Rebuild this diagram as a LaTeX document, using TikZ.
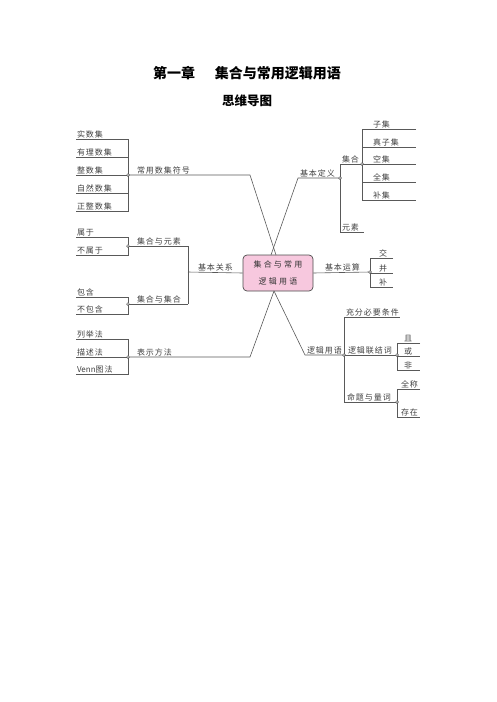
\documentclass[tikz,border=0pt]{standalone}
\usepackage{fontspec}
\newfontfamily\cjk[LetterSpace=12]{Noto Sans CJK SC}
\newfontfamily\cjkw[LetterSpace=28]{Noto Sans CJK SC}
\newfontfamily\cjkt{Noto Sans CJK SC}
\definecolor{nodepink}{RGB}{247,200,222}
\tikzset{
  ln/.style={draw=black!65, line width=0.6pt},
  lbl/.style={font=\cjk\fontsize{8}{9}\selectfont, text=black!75, inner sep=0.8pt, anchor=south west},
  jdot/.style={circle, draw=black!70, fill=white, inner sep=0pt, minimum size=2.8pt, line width=0.5pt},
  hub/.style={draw=black!70, line width=0.7pt, fill=nodepink, rounded corners=4pt, minimum width=70pt, minimum height=36pt, align=center, font=\cjkw\fontsize{8}{17}\selectfont, text=black!80},
  ttl/.style={font=\cjkt\bfseries\fontsize{14}{16}\selectfont},
  sttl/.style={font=\cjkt\bfseries\fontsize{12.5}{14}\selectfont}
}
\begin{document}
\begin{tikzpicture}[x=1pt,y=-1pt]
\useasboundingbox (0,0) rectangle (496,702);
\node[ttl] (title) at (247,73) {第一章\hspace{1.4em}集合与常用逻辑用语};
\node[sttl] (subtitle) at (247,101) {思维导图};

\node[hub] (c) at (278,273) {集合与常用\\逻辑用语};

% ---------- 常用数集符号 ----------
\node[lbl] (a1) at (76,139) {实数集};
\node[lbl] (a2) at (76,157) {有理数集};
\node[lbl] (a3) at (76,175) {整数集};
\node[lbl] (a4) at (76,193) {自然数集};
\node[lbl] (a5) at (76,211) {正整数集};
\draw[ln] (a1.south west) -- (128,139) -- (128,211) -- (a5.south west);
\foreach \y/\n in {157/a2,175/a3,193/a4} \draw[ln] (\n.south west) -- (128,\y);
\node[lbl] (A) at (136,175) {常用数集符号};
\coordinate (Aj) at (128,175);
\coordinate (Ak) at (250,175);
\coordinate (Ac) at (276,255);
\draw[ln] (Aj) -- (Ak) -- (Ac);
\node[jdot] at (Aj) {};

% ---------- 基本关系 ----------
\node[lbl] (B) at (197,272) {基本关系};
\coordinate (Bj) at (188,272);
\draw[ln] (c.west) -- (Bj);
\draw[ln] (188,246) -- (188,304);
\node[lbl] (B1) at (136,246) {集合与元素};
\draw[ln] (128,246) -- (188,246);
\node[lbl] (b11) at (76,237) {属于};
\node[lbl] (b12) at (76,255) {不属于};
\draw[ln] (b11.south west) -- (128,237) -- (128,255) -- (b12.south west);
\node[jdot] at (128,246) {};
\node[lbl] (B2) at (136,304) {集合与集合};
\draw[ln] (128,304) -- (188,304);
\node[lbl] (b21) at (76,297) {包含};
\node[lbl] (b22) at (76,314) {不包含};
\draw[ln] (b21.south west) -- (128,297) -- (128,314) -- (b22.south west);
\node[jdot] at (128,304) {};

% ---------- 表示方法 ----------
\node[lbl] (d1) at (76,339) {列举法};
\node[lbl] (d2) at (76,357) {描述法};
\node[lbl] (d3) at (76,374) {{\cjkt Venn}图法};
\draw[ln] (d1.south west) -- (128,339) -- (128,374) -- (d3.south west);
\draw[ln] (d2.south west) -- (128,357);
\node[lbl] (D) at (136,357) {表示方法};
\coordinate (Dj) at (128,357);
\coordinate (Dk) at (250,357);
\coordinate (Dc) at (274,291);
\draw[ln] (Dj) -- (Dk) -- (Dc);
\node[jdot] at (Dj) {};

% ---------- 基本定义 ----------
\coordinate (Ec) at (271,255);
\coordinate (Ek) at (298,178);
\coordinate (Ej) at (340,178);
\node[lbl] (E) at (299,178) {基本定义};
\draw[ln] (Ec) -- (Ek) -- (Ej);
\draw[ln] (340,164) -- (340,232);
\node[lbl] (E1) at (341,164) {集合};
\draw[ln] (340,164) -- (362,164);
\node[lbl] (E2) at (341,232) {元素};
\draw[ln] (340,232) -- (364,232);
\node[lbl] (e1) at (372,129) {子集};
\node[lbl] (e2) at (372,147) {真子集};
\node[lbl] (e3) at (372,164) {空集};
\node[lbl] (e4) at (372,182) {全集};
\node[lbl] (e5) at (372,200) {补集};
\draw[ln] (416,129) -- (362,129) -- (362,200) -- (416,200);
\foreach \y in {147,164,182} \draw[ln] (362,\y) -- (416,\y);
\node[jdot] at (Ej) {};
\node[jdot] at (362,164) {};

% ---------- 基本运算 ----------
\node[lbl] (F) at (324,272) {基本运算};
\coordinate (Fj) at (370,272);
\draw[ln] (c.east) -- (Fj);
\node[lbl] (f1) at (378,258) {交};
\node[lbl] (f2) at (378,273) {并};
\node[lbl] (f3) at (378,287) {补};
\draw[ln] (393,258) -- (370,258) -- (370,287) -- (393,287);
\draw[ln] (370,273) -- (393,273);
\node[jdot] at (Fj) {};

% ---------- 逻辑用语 ----------
\coordinate (Gc) at (274,291);
\coordinate (Gk) at (305,355);
\coordinate (Gj) at (344,355);
\node[lbl] (G) at (306,355) {逻辑用语};
\draw[ln] (Gc) -- (Gk) -- (Gj);
\draw[ln] (344,317) -- (344,402);
\node[lbl] (G1) at (345,317) {充分必要条件};
\draw[ln] (344,317) -- (400,317);
\node[lbl] (G2) at (347,355) {逻辑联结词};
\draw[ln] (344,355) -- (397,355);
\node[lbl] (G3) at (346,402) {命题与量词};
\draw[ln] (344,402) -- (397,402);
\node[lbl] (g1) at (403,343) {且};
\node[lbl] (g2) at (403,356) {或};
\node[lbl] (g3) at (403,370) {非};
\draw[ln] (420,343) -- (397,343) -- (397,370) -- (420,370);
\draw[ln] (397,356) -- (420,356);
\node[lbl] (g4) at (400,389) {全称};
\node[lbl] (g5) at (400,417) {存在};
\draw[ln] (420,389) -- (397,389) -- (397,417) -- (420,417);
\node[jdot] at (Gj) {};
\node[jdot] at (397,355) {};
\node[jdot] at (397,402) {};
\end{tikzpicture}
\end{document}
